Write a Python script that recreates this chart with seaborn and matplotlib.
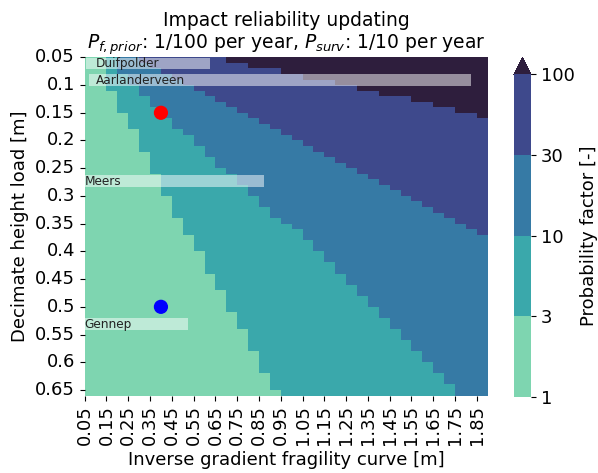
import numpy as np
import pandas as pd
import matplotlib
matplotlib.use('Agg')
import matplotlib.pyplot as plt
import matplotlib.patches as mpatches
from matplotlib.colors import ListedColormap, BoundaryNorm
import seaborn as sns

# Grid of the heatmap (inverse gradient on x, decimate height on y)
x_values = np.round(np.arange(0.05, 1.851, 0.05), 2)   # 37 columns
y_values = np.round(np.arange(0.05, 0.651, 0.01), 2)   # 61 rows

# First column (per row) where the probability factor reaches 3, 10, 30, 100
# row 0 = 0.05 m ... row 60 = 0.65 m
col_ge_3 = [2, 2, 2, 2, 2, 2, 3, 3, 3, 3, 4, 4, 4, 5, 5, 5, 5, 6, 6, 6,
            6, 7, 7, 7, 7, 8, 8, 8, 8, 9, 9, 9, 10, 10, 10, 11, 11, 11, 11, 12,
            12, 12, 13, 13, 13, 13, 14, 14, 14, 15, 15, 15, 15, 16, 16, 16, 16, 17, 17, 17,
            18]
col_ge_10 = [3, 3, 3, 4, 4, 5, 5, 6, 6, 7, 7, 8, 8, 9, 10, 10, 11, 11, 12, 12,
             13, 14, 14, 15, 15, 16, 16, 17, 17, 18, 19, 20, 20, 21, 21, 22, 22, 23, 23, 24,
             24, 25, 25, 26, 26, 27, 27, 28, 28, 29, 29, 30, 30, 31, 31, 32, 32, 33, 33, 34,
             34]
col_ge_30 = [5, 6, 7, 8, 9, 10, 11, 12, 13, 14, 15, 16, 17, 18, 19, 20, 21, 22, 23, 24,
             25, 26, 27, 28, 29, 30, 31, 32, 33, 34, 35, 36, 37, 37, 37, 37, 37, 37, 37, 37,
             37, 37, 37, 37, 37, 37, 37, 37, 37, 37, 37, 37, 37, 37, 37, 37, 37, 37, 37, 37,
             37]
col_ge_100 = [13, 15, 18, 20, 23, 25, 27, 30, 32, 34, 36] + [37] * 50

# Representative factor value for each class
class_values = [2, 5, 20, 50, 200]
bounds = [1, 3, 10, 30, 100]
class_colors = ['#7ed5b0', '#3aa8ab', '#367aa5', '#3e498c']
over_color = '#2e1e3d'

# Locations drawn as bands on top of the heatmap
sites = ['Duifpolder', 'Aarlanderveen', 'Meers', 'Gennep']
site_x_start = [0.056, 0.07, 0.05, 0.05]
site_x_end = [0.625, 1.825, 0.875, 0.525]
site_y = [0.061, 0.091, 0.2735, 0.5315]
site_label_x = [0.1, 0.1, 0.05, 0.05]
band_height = 0.021

# Marked points
point_x = [0.4, 0.4]
point_y = [0.15, 0.5]
point_colors = ['red', 'blue']


def build_grid():
    grid = np.zeros((len(y_values), len(x_values)))
    cols = np.arange(len(x_values))
    for r in range(len(y_values)):
        idx = ((cols >= col_ge_3[r]).astype(int) + (cols >= col_ge_10[r]) +
               (cols >= col_ge_30[r]) + (cols >= col_ge_100[r]))
        grid[r] = np.array(class_values)[idx]
    return pd.DataFrame(grid, index=y_values, columns=x_values)


def x_pos(x):
    return (x - x_values[0]) / 0.05


def y_pos(y):
    return (y - y_values[0]) / 0.01


def main():
    plt.rcParams['font.size'] = 13
    df = build_grid()

    cmap = ListedColormap(class_colors)
    cmap.set_over(over_color)
    norm = BoundaryNorm(bounds, ncolors=len(class_colors))

    fig = plt.figure(figsize=(5.98, 4.73), dpi=100)
    ax = fig.add_axes([0.1416, 0.1638, 0.674, 0.715])
    cax = fig.add_axes([0.8595, 0.1607, 0.0285, 0.7167])

    sns.heatmap(df, ax=ax, cbar_ax=cax, cmap=cmap, norm=norm,
                cbar_kws={'extend': 'max', 'ticks': bounds,
                          'label': 'Probability factor [-]'})
    cax.set_yticklabels([str(b) for b in bounds])

    # ticks sit on the cell edges, every other column / every fifth row
    ax.set_xticks(np.arange(0, len(x_values), 2))
    ax.set_xticklabels([f'{v:g}' for v in x_values[::2]], rotation=90)
    ax.set_yticks(np.arange(0, len(y_values), 5))
    ax.set_yticklabels([f'{v:g}' for v in y_values[::5]], rotation=0)

    for name, x0, x1, yc, lx in zip(sites, site_x_start, site_x_end, site_y, site_label_x):
        rect = mpatches.Rectangle((x_pos(x0), y_pos(yc - band_height / 2)),
                                  x_pos(x1) - x_pos(x0), band_height / 0.01,
                                  facecolor='white', alpha=0.5, edgecolor='none', zorder=2)
        ax.add_patch(rect)
        ax.text(x_pos(lx), y_pos(yc), name, ha='left', va='center',
                fontsize=8.7, color='#222222', zorder=3)

    ax.scatter([x_pos(v) for v in point_x], [y_pos(v) for v in point_y],
               s=85, c=point_colors, zorder=4)

    ax.set_xlabel('Inverse gradient fragility curve [m]')
    ax.set_ylabel('Decimate height load [m]')
    ax.set_title('Impact reliability updating\n'
                 r'$P_{f,prior}$: 1/100 per year, $P_{surv}$: 1/10 per year', fontsize=13.5)

    fig.savefig('out.png', dpi=100)
    plt.close(fig)


if __name__ == '__main__':
    main()
